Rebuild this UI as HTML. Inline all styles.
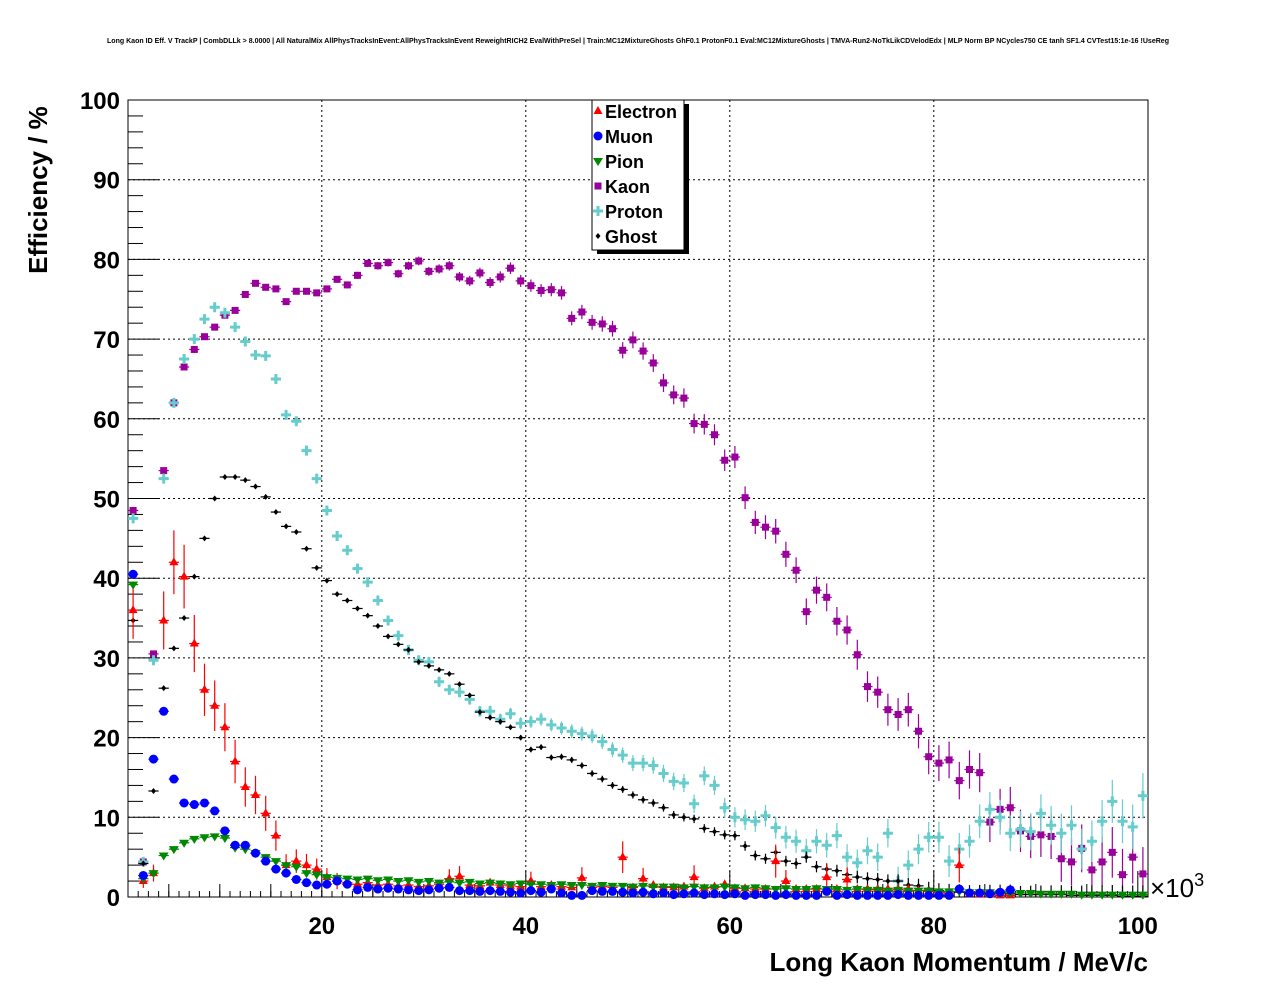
<!DOCTYPE html>
<html><head><meta charset="utf-8"><style>
body{margin:0;background:#fff}
svg{display:block;font-family:"Liberation Sans",sans-serif}
</style></head><body>
<svg id="c" width="1276" height="996" viewBox="0 0 1276 996">
<text x="638" y="43" font-size="7" font-weight="bold" text-anchor="middle" textLength="1062" lengthAdjust="spacingAndGlyphs">Long Kaon ID Eff. V TrackP | CombDLLk &gt; 8.0000 | All NaturalMix AllPhysTracksInEvent:AllPhysTracksInEvent ReweightRICH2 EvalWithPreSel | Train:MC12MixtureGhosts GhF0.1 ProtonF0.1 Eval:MC12MixtureGhosts | TMVA-Run2-NoTkLikCDVelodEdx | MLP Norm BP NCycles750 CE tanh SF1.4 CVTest15:1e-16 !UseReg</text>
<rect x="128" y="100" width="1020" height="797" fill="none" stroke="#000" stroke-width="1"/>
<g id="grid"></g><g id="axes"></g><g id="marks"></g>
<text transform="translate(47,190) rotate(-90)" font-size="26" font-weight="bold" text-anchor="middle">Efficiency / %</text>
<text x="1148" y="971" font-size="26" font-weight="bold" text-anchor="end">Long Kaon Momentum / MeV/c</text>
<text x="1150" y="897" font-size="26">×10<tspan font-size="18" dy="-11">3</tspan></text>
<g>
<rect x="597" y="104" width="92" height="150" fill="#000"/>
<rect x="592" y="100" width="92" height="150" fill="#fff" stroke="#000"/>
<g id="legend"></g></g>
</svg>
<script>
const categories=Array.from({length:100},(_,i)=>1.5+i);
const electron=[36,2,3,34.7,42,40.2,31.8,26,24,21.3,17,13.8,12.8,10.5,7.7,4,4.5,4,3.5,2.5,2,1.8,1.6,1.8,1.5,1.6,1.4,1.5,1.3,1.4,1.6,2.3,2.6,1.5,1.4,1.8,1.5,1.4,1.3,2,1.3,1.5,1.3,1.2,2.4,1.2,1.3,1.2,5,1.2,2.3,1.5,1.2,1.2,1.3,2.5,1.1,1.3,1.6,1.1,1.1,1,1,4.5,2,1,1,1,2.5,1,2.2,1,1,1,1,1,1,0.8,0.7,0.6,0.5,4,0.4,0.3,0.3,0.2,0.2,0,0,0,0,0,0,0,0,0,0,0,0,0];
const muon=[40.5,2.7,17.3,23.3,14.8,11.8,11.6,11.8,10.8,8.3,6.5,6.5,5.5,4.5,3.5,3,2.2,1.8,1.5,1.6,2,1.6,0.9,1.2,1,1.1,1,0.9,0.8,0.9,1.1,1.2,0.8,0.8,0.7,0.8,0.7,0.6,0.5,0.8,0.6,1,0.5,0.2,0.2,0.8,0.7,0.7,0.6,0.5,0.6,0.4,0.5,0.3,0.4,0.5,0.3,0.4,0.3,0.4,0.2,0.3,0.3,0.2,0.3,0.2,0.2,0.2,0.7,0.2,0.3,0.2,0.2,0.2,0.2,0.3,0.2,0.2,0.2,0.2,0.2,1,0.5,0.5,0.4,0.6,0.9,0,0,0,0,0,0,0,0,0,0,0,0,0];
const pion=[39.2,2.3,3,5.2,6,6.8,7.3,7.5,7.6,7.4,6.2,6,5.5,5,4.5,4,3.8,3,2.8,2.5,2.4,2.3,2.2,2.3,2.1,2.2,2,2.1,1.9,2,1.8,1.9,1.8,1.9,1.7,1.8,1.7,1.6,1.7,1.6,1.6,1.5,1.6,1.5,1.5,1.4,1.5,1.4,1.4,1.3,1.4,1.3,1.3,1.3,1.2,1.3,1.2,1.2,1.3,1.2,1.1,1.2,1.1,1,1.1,1,1,1.1,1,1,0.9,1,0.9,0.9,0.8,0.9,0.8,0.8,0.8,0.7,0.7,0.7,0.6,0.6,0.6,0.5,0.5,0.5,0.5,0.4,0.4,0.4,0.4,0.3,0.3,0.3,0.3,0.3,0.3,0.3];
const kaon=[48.5,4.4,30.5,53.5,62,66.5,68.7,70.3,71.5,73,73.6,75.6,77,76.5,76.3,74.7,76,76,75.8,76.3,77.5,76.8,78,79.5,79.2,79.6,78.2,79.2,79.8,78.5,78.8,79.2,77.8,77.3,78.3,77.1,77.8,78.9,77.3,76.7,76.1,76.2,75.8,72.6,73.4,72.1,71.9,71.3,68.6,69.9,68.5,67,64.5,63,62.6,59.4,59.3,58,54.8,55.2,50.1,47,46.4,45.9,43,41,35.8,38.5,37.6,34.6,33.5,30.4,26.4,25.7,23.5,22.9,23.5,20.8,17.6,16.8,17.2,14.6,16,15.6,9.4,11,11.2,8.3,7.6,7.8,7.6,4.8,4.4,6.1,3.4,4.4,5.6,2.8,5,2.9];
const proton=[47.5,4.4,29.7,52.5,62,67.5,70,72.5,74,73.3,71.5,69.7,68,67.9,65,60.5,59.7,56,52.5,48.5,45.3,43.5,41.2,39.5,37.2,34.7,32.8,31,29.7,29.5,27,26,25.7,24.8,23.3,23.3,22.3,23,21.8,22,22.3,21.6,21.2,20.8,20.5,20.2,19.5,18.5,17.8,16.8,16.8,16.5,15.5,14.5,14.3,11.7,15.2,14,11.2,10,9.7,9.5,10.2,8.7,7.5,7,5.8,7,6.5,7.7,5,4.3,5.8,5,8,2,4,6,7.5,7.5,4.5,6,7,9.5,11,10,8,8.5,8.2,10.5,9,8,9,6,7,9.5,12,9.5,8.8,12.7];
const ghost=[34.7,4.2,13.3,26.2,31.2,35,40.2,45,50,52.7,52.7,52.3,51.5,50.2,48.3,46.5,45.8,43.7,41.3,39.7,38,37.2,36.2,35.3,34,32.7,31.7,31,29.5,29,28.5,28,26.7,25.3,23.2,22.5,22,21.3,20,18.5,18.8,17.5,17.6,17.2,16.5,15.5,14.8,14,13.5,12.8,12.2,11.8,11.2,10.3,10,9.8,8.6,8.2,7.8,7.7,6.4,5.2,4.8,5.6,4.5,4.2,5,3.8,3.5,3.3,2.8,2.5,2.3,2.2,2,2,1.5,1.4,1,0.8,0.7,0.6,0.5,0.5,0.5,0.5,0.4,0.3,0.3,0.3,0.3,0.3,0.2,0.2,0.2,0.2,0.2,0.1,0.1,0.1];
const xTicks=[20,40,60,80,100];
const yTicks=[0,10,20,30,40,50,60,70,80,90,100];
const seriesNames=["Electron","Muon","Pion","Kaon","Proton","Ghost"];

const NS="http://www.w3.org/2000/svg";
const X0=128,X1=1148,Y0=897,Y1=100;
const xs=v=>X0+(v-1)/100*(X1-X0);
const ys=v=>Y0-v/100*(Y0-Y1);
function mk(tag,attrs,parent){const e=document.createElementNS(NS,tag);for(const k in attrs)e.setAttribute(k,attrs[k]);parent.appendChild(e);return e;}
const grid=document.getElementById('grid'),axes=document.getElementById('axes'),marks=document.getElementById('marks'),leg=document.getElementById('legend');
xTicks.forEach(t=>{const x=xs(t);
 if(t<100){const g=mk('line',{x1:x,x2:x,y1:Y0,y2:Y1,stroke:'#000','stroke-dasharray':'2,3'},grid);}
 const l=mk('text',{x:x,y:934,'font-size':24,'font-weight':'bold','text-anchor':'middle'},axes);l.textContent=t;
 });
for(let v=5;v<=100;v+=5){const x=xs(v);mk('line',{x1:x,x2:x,y1:Y0,y2:Y0-(v%20==0?26:13),stroke:'#000'},axes);}
for(let v=2;v<=100;v+=1){const x=xs(v);mk('line',{x1:x,x2:x,y1:Y0,y2:Y0-6,stroke:'#000'},axes);}
yTicks.forEach(t=>{const y=ys(t);
 if(t>0&&t<100){const g=mk('line',{x1:X0,x2:X1,y1:y,y2:y,stroke:'#000','stroke-dasharray':'2,3'},grid);}
 mk('line',{x1:X0,x2:X0+31,y1:y,y2:y,stroke:'#000'},axes);
 const l=mk('text',{x:120,y:y+9,'font-size':24,'font-weight':'bold','text-anchor':'end'},axes);l.textContent=t;
 });
for(let v=2;v<100;v+=2){if(v%10)mk('line',{x1:X0,x2:X0+15,y1:ys(v),y2:ys(v),stroke:'#000'},axes);}
const colors={Electron:'#ff0000',Muon:'#0000ff',Pion:'#008800',Kaon:'#990099',Proton:'#66cccc',Ghost:'#000000'};
function marker(name,x,y,p){const c=colors[name];
 if(name==='Electron')return mk('polygon',{points:`${x},${y-5} ${x-4.5},${y+3} ${x+4.5},${y+3}`,fill:c},p);
 if(name==='Muon')return mk('circle',{cx:x,cy:y,r:4.5,fill:c},p);
 if(name==='Pion')return mk('polygon',{points:`${x},${y+5} ${x-5},${y-3} ${x+5},${y-3}`,fill:c},p);
 if(name==='Kaon')return mk('rect',{x:x-3.5,y:y-3.5,width:7,height:7,fill:c},p);
 if(name==='Proton')return mk('path',{d:`M${x-5},${y}H${x+5}M${x},${y-5}V${y+5}`,stroke:c,'stroke-width':3},p);
 return mk('path',{d:`M${x},${y-3}L${x+2.5},${y}L${x},${y+3}L${x-2.5},${y}Z`,fill:c},p);}
const data={Electron:electron,Muon:muon,Pion:pion,Kaon:kaon,Proton:proton,Ghost:ghost};
const errBase={Electron:0.3,Muon:0.2,Pion:0.1,Kaon:0.3,Proton:0.4,Ghost:0.15};
const errGrow={Electron:0,Muon:0.1,Pion:0.05,Kaon:0.5,Proton:0.4,Ghost:0.2};
["Kaon","Proton","Ghost","Electron","Pion","Muon"].forEach(name=>{
 const g=mk('g',{},marks);
 
 
 data[name].forEach((v,i)=>{if(v<=0)return;const x=xs(categories[i]),y=ys(v),c=colors[name];
  let e=errBase[name]+errGrow[name]*Math.pow(i/40,2);
  if(name==='Electron')e=v<2?0.3:Math.min(0.6*Math.sqrt(v)*(1+i/100),4);
  mk('line',{x1:xs(categories[i]-0.5),x2:xs(categories[i]+0.5),y1:y,y2:y,stroke:c,'stroke-width':1.2},g);
  mk('line',{x1:x,x2:x,y1:ys(v+e),y2:ys(Math.max(0,v-e)),stroke:c,'stroke-width':1.2},g);
  const m=marker(name,x,y,g);
  
  });});
seriesNames.forEach((n,i)=>{const y=111+i*25;
 const g=mk('g',{},leg);
 
 
 marker(n,598,y,g);
 const t=mk('text',{x:605,y:y+7,'font-size':18,'font-weight':'bold'},g);t.textContent=n;});
</script>
</body></html>
